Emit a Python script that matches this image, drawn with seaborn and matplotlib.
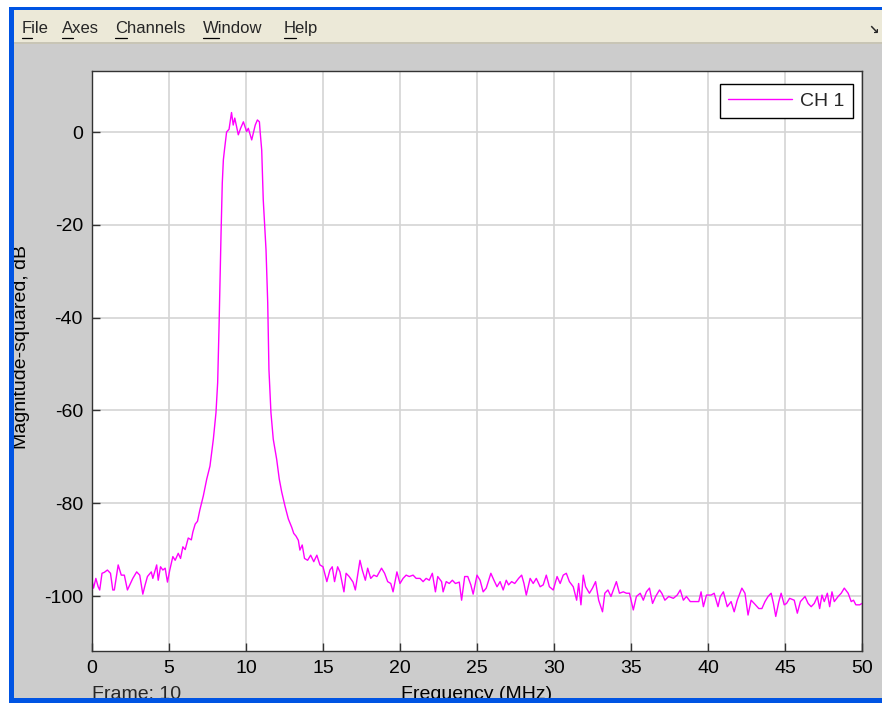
import pandas as pd
import seaborn as sns
import matplotlib.pyplot as plt
from matplotlib.patches import Rectangle
from matplotlib.lines import Line2D

# Spectrum trace (MHz, dB)
freq_mhz = [
    0.0, 0.1, 0.25, 0.4, 0.5, 0.65, 0.8, 1.0, 1.2, 1.35,
    1.45, 1.7, 1.9, 2.1, 2.3, 2.5, 2.65, 2.9, 3.1, 3.3,
    3.45, 3.6, 3.85, 3.95, 4.2, 4.3, 4.45, 4.6, 4.75, 4.9,
    5.05, 5.25, 5.4, 5.6, 5.75, 5.9, 6.05, 6.25, 6.45, 6.55,
    6.7, 6.85, 7.0, 7.23, 7.45, 7.66, 7.88, 8.05, 8.16, 8.25,
    8.31, 8.38, 8.46, 8.53, 8.6, 8.74, 8.9, 9.06, 9.17, 9.27,
    9.5, 9.65, 9.83, 10.04, 10.15, 10.37, 10.6, 10.74, 10.87, 10.92,
    11.02, 11.12, 11.3, 11.41, 11.49, 11.62, 11.77, 11.99, 12.16, 12.32,
    12.53, 12.75, 12.97, 13.1, 13.25, 13.4, 13.5, 13.65, 13.8, 14.0,
    14.2, 14.4, 14.6, 14.8, 15.0, 15.25, 15.45, 15.6, 15.75, 15.95,
    16.1, 16.36, 16.5, 16.7, 16.95, 17.1, 17.2, 17.4, 17.55, 17.75,
    17.9, 18.1, 18.3, 18.5, 18.8, 19.0, 19.2, 19.4, 19.55, 19.8,
    20.0, 20.2, 20.4, 20.6, 20.85, 21.05, 21.3, 21.5, 21.7, 21.9,
    22.1, 22.3, 22.45, 22.7, 22.8, 23.0, 23.2, 23.4, 23.6, 23.85,
    24.0, 24.2, 24.4, 24.6, 24.75, 25.0, 25.2, 25.4, 25.6, 25.9,
    26.1, 26.3, 26.5, 26.7, 26.9, 27.05, 27.25, 27.45, 27.7, 27.9,
    28.05, 28.2, 28.45, 28.65, 28.85, 29.1, 29.3, 29.5, 29.7, 29.95,
    30.2, 30.4, 30.6, 30.8, 31.0, 31.25, 31.47, 31.6, 31.75, 31.9,
    32.05, 32.3, 32.5, 32.7, 32.9, 33.15, 33.3, 33.5, 33.7, 34.05,
    34.25, 34.5, 34.7, 34.9, 35.15, 35.35, 35.6, 35.8, 36.0, 36.2,
    36.4, 36.6, 36.85, 37.0, 37.2, 37.45, 37.75, 38.0, 38.2, 38.4,
    38.6, 38.85, 39.15, 39.4, 39.55, 39.7, 39.9, 40.2, 40.4, 40.65,
    40.8, 41.0, 41.25, 41.5, 41.7, 41.9, 42.2, 42.4, 42.6, 42.8,
    43.0, 43.3, 43.5, 43.7, 43.9, 44.1, 44.25, 44.4, 44.6, 44.75,
    44.95, 45.1, 45.3, 45.6, 45.8, 46.0, 46.3, 46.5, 46.7, 46.9,
    47.1, 47.25, 47.4, 47.55, 47.75, 47.9, 48.05, 48.2, 48.45, 48.65,
    48.85, 49.1, 49.3, 49.45, 49.6, 49.85, 50.0,
]
power_db = [
    -96.6, -98.3, -96.2, -98.0, -98.7, -95.1, -94.9, -94.4, -95.1, -98.7,
    -98.7, -93.3, -95.5, -95.5, -98.7, -97.3, -96.2, -94.8, -95.5, -99.6,
    -97.6, -95.8, -94.8, -96.2, -93.3, -96.6, -93.7, -94.4, -94.0, -97.0,
    -94.4, -91.5, -92.3, -90.8, -91.9, -89.4, -90.0, -87.5, -87.9, -86.2,
    -84.5, -83.9, -81.5, -78.4, -74.8, -72.0, -66.2, -60.5, -54.0, -41.9,
    -32.5, -21.8, -11.0, -6.0, -3.9, 0.0, 0.6, 4.2, 1.5, 3.0,
    -0.6, 0.8, 2.2, 0.1, 0.8, -1.7, 1.5, 2.6, 2.2, 0.0,
    -3.9, -14.6, -25.4, -36.8, -51.2, -60.5, -66.2, -70.5, -74.8, -77.6,
    -80.6, -83.4, -85.2, -86.5, -87.1, -88.0, -90.1, -89.0, -91.9, -92.3,
    -91.2, -92.6, -91.2, -93.3, -93.7, -96.9, -94.4, -93.7, -96.9, -93.7,
    -94.8, -99.1, -95.1, -95.8, -97.0, -98.7, -96.6, -92.3, -94.4, -96.6,
    -94.0, -96.2, -95.5, -95.8, -94.0, -95.1, -96.9, -97.3, -99.1, -94.8,
    -97.3, -96.2, -95.5, -95.8, -95.5, -96.2, -96.2, -96.9, -96.2, -96.6,
    -95.1, -99.1, -95.8, -96.9, -99.1, -96.9, -97.3, -96.6, -97.3, -97.0,
    -100.9, -95.8, -95.8, -97.6, -99.6, -95.5, -96.6, -99.1, -98.3, -95.1,
    -96.6, -98.0, -96.9, -98.7, -96.6, -97.6, -96.9, -97.3, -96.2, -95.5,
    -97.3, -99.8, -96.2, -97.3, -96.2, -98.0, -97.6, -95.5, -98.0, -98.7,
    -95.8, -97.3, -95.5, -95.1, -96.9, -98.0, -100.9, -97.3, -101.9, -95.5,
    -98.0, -99.4, -98.3, -96.9, -100.9, -103.4, -99.4, -98.7, -100.1, -96.9,
    -99.4, -99.1, -99.4, -99.4, -103.0, -100.1, -99.4, -100.9, -99.1, -98.3,
    -101.6, -100.1, -98.7, -99.4, -100.9, -100.1, -100.5, -99.8, -98.7, -100.9,
    -100.1, -101.2, -101.2, -101.2, -99.1, -102.3, -99.8, -99.8, -99.4, -102.3,
    -100.1, -99.1, -102.3, -101.2, -103.4, -100.9, -98.3, -99.4, -104.1, -100.9,
    -101.6, -102.7, -102.7, -101.2, -100.1, -99.4, -101.6, -104.4, -101.2, -99.4,
    -101.9, -101.6, -100.5, -100.9, -103.7, -101.2, -100.1, -101.6, -102.3, -101.6,
    -100.1, -102.7, -99.8, -101.2, -99.4, -102.3, -99.1, -101.2, -100.1, -99.4,
    -98.3, -99.4, -101.2, -100.9, -101.9, -101.9, -101.6,
]

x_ticks = [0, 5, 10, 15, 20, 25, 30, 35, 40, 45, 50]
y_ticks = [-100, -80, -60, -40, -20, 0]
channel_name = "CH 1"
frame_label = "Frame: 10"
menu_items = ["File", "Axes", "Channels", "Window", "Help"]

# canvas size in pixels
W, H = 882, 703
XP_BLUE = "#0054e3"
MENU_BEIGE = "#ece9d8"
PANEL_GREY = "#cccccc"


def px_box(x0, y0, x1, y1):
    """Pixel box (top-left origin) -> figure-fraction rect."""
    return (x0 / W, 1 - y1 / H, (x1 - x0) / W, (y1 - y0) / H)


sns.set_style("whitegrid")
plt.rcParams["font.family"] = ["Liberation Sans", "DejaVu Sans"]
plt.rcParams["axes.unicode_minus"] = False

fig = plt.figure(figsize=(W / 100, H / 100), dpi=100, facecolor=PANEL_GREY)

# window chrome: white margin, blue frame, menu bar
for box, color, z in [
    ((0, 0, 9, H), "white", 1),
    ((0, 0, W, 8), "white", 1),
    ((9, 7, W, 10), XP_BLUE, 2),
    ((9, 8, 14, H), XP_BLUE, 2),
    ((14, 10, W, 42), MENU_BEIGE, 2),
    ((14, 42, W, 43.5), "#c8c5b5", 2),
    ((9, 698, W, H), XP_BLUE, 10),
]:
    x, y, w, h = px_box(*box)
    fig.add_artist(Rectangle((x, y), w, h, transform=fig.transFigure,
                             facecolor=color, edgecolor="none", zorder=z))

menu_x = [22, 62, 115, 203, 284]
renderer = fig.canvas.get_renderer()
for name, left in zip(menu_items, menu_x):
    fig.text(left / W, 1 - 28.5 / H, name, fontsize=12, ha="left", va="center", zorder=5)
    first = fig.text(left / W, 1 - 28.5 / H, name[0], fontsize=12, ha="left", va="center", alpha=0)
    bb = first.get_window_extent(renderer)
    first.remove()
    fig.add_artist(Line2D([bb.x0 / W, bb.x1 / W], [1 - 37.5 / H, 1 - 37.5 / H],
                          transform=fig.transFigure, color="black", lw=0.9, zorder=5))
# little dock arrow in the menu bar corner
fig.text(879 / W, 1 - 30 / H, "\u2198", fontsize=9, weight="bold",
         family="DejaVu Sans", ha="right", va="center", zorder=5)

# plot area
ax = fig.add_axes(px_box(92, 71, 862, 651))
ax.set_facecolor("white")
df = pd.DataFrame({"freq": freq_mhz, "db": power_db})
sns.lineplot(data=df, x="freq", y="db", color="#ff00ff", linewidth=1.0,
             estimator=None, sort=False, label=channel_name, ax=ax)

ax.set_xlim(0, 50)
ax.set_ylim(-111.85, 13.15)
ax.set_xticks(x_ticks)
ax.set_yticks(y_ticks)
ax.grid(True, color="#d4d4d4", linewidth=1.2)
ax.tick_params(axis="both", direction="in", length=6, width=1, color="#333333",
               labelsize=14, pad=6.5, left=True, bottom=True, labelcolor="black")
for sp in ax.spines.values():
    sp.set_color("#333333")
    sp.set_linewidth(1.0)

ax.set_xlabel("Frequency (MHz)", fontsize=14, color="black")
ax.xaxis.set_label_coords(0.5, -0.060)
ax.set_ylabel("Magnitude-squared, dB", fontsize=14, color="black", va="center")
ax.yaxis.set_label_coords(-0.0916, 0.524)
ax.text(0, -0.060, frame_label, transform=ax.transAxes, ha="left", va="top", fontsize=14)

leg = ax.legend(loc="upper right", bbox_to_anchor=(0.988, 0.977), borderaxespad=0,
                frameon=True, fancybox=False, edgecolor="black", framealpha=1,
                fontsize=14, handlelength=3.3, handletextpad=0.4, borderpad=0.42)
leg.get_frame().set_linewidth(1.0)

fig.savefig("out.png", dpi=100, facecolor=fig.get_facecolor())
